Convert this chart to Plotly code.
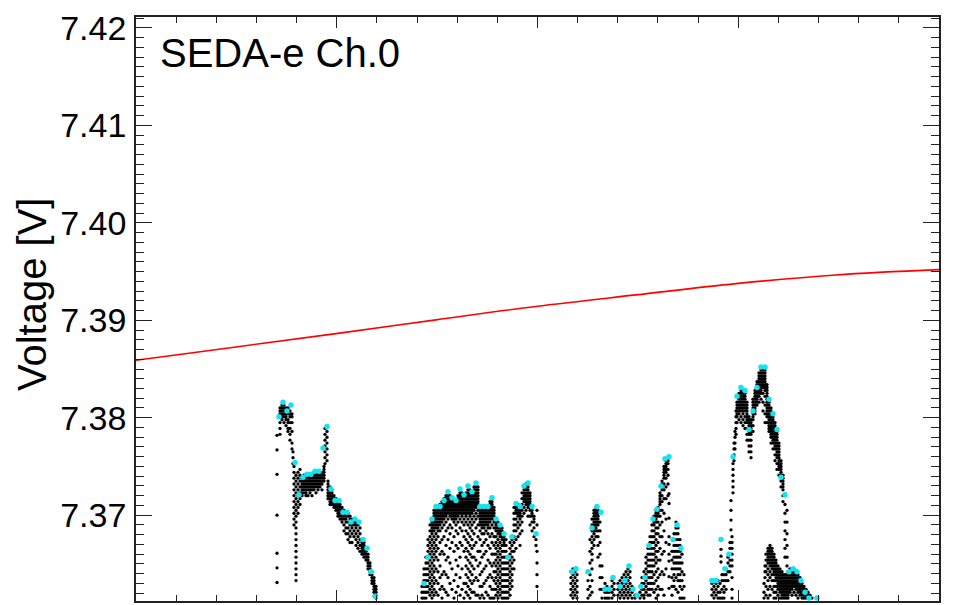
import plotly.graph_objects as go

# ---------------- data ----------------
# sample index (arbitrary time axis, unlabeled in the original)
fit_x = [0, 100, 200, 300, 400, 500, 600, 700, 803]
fit_y = [7.38589, 7.38726, 7.38863, 7.39004, 7.39142, 7.39260, 7.39376, 7.39465, 7.39519]

# black measurements, grouped by sample column: (x, [voltages])
cluster_a = [
    (141, [7.3631, 7.3646, 7.3661, 7.3700, 7.3742, 7.3767, 7.3782]),
    (144, [7.3810, 7.3807, 7.3804, 7.3801, 7.3795, 7.3789, 7.3783]),
    (146, [7.3813, 7.3810, 7.3807, 7.3804, 7.3801, 7.3798]),
    (148, [7.3813, 7.3810, 7.3807, 7.3804, 7.3801, 7.3795]),
    (150, [7.3810, 7.3807, 7.3804, 7.3801, 7.3798, 7.3792]),
    (152, [7.3810, 7.3807, 7.3804, 7.3798, 7.3795, 7.3789, 7.3786]),
    (154, [7.3807, 7.3804, 7.3801, 7.3795, 7.3789, 7.3783, 7.3777]),
    (156, [7.3804, 7.3801, 7.3795, 7.3786, 7.3774, 7.3768]),
    (157, [7.3765, 7.3759, 7.3753]),
    (158, [7.3750, 7.3744, 7.3738, 7.3732, 7.3726, 7.3720, 7.3714, 7.3708, 7.3702, 7.3696, 7.3690]),
    (160, [7.3741, 7.3735, 7.3729, 7.3723, 7.3717, 7.3711, 7.3705, 7.3699, 7.3693, 7.3687, 7.3681,
           7.3675, 7.3669, 7.3663, 7.3657, 7.3651, 7.3645, 7.3639, 7.3633]),
    (162, [7.3744, 7.3738, 7.3732, 7.3726, 7.3720, 7.3714, 7.3708, 7.3702]),
    (164, [7.3747, 7.3741, 7.3735, 7.3729, 7.3723, 7.3717, 7.3711]),
    (166, [7.3738, 7.3735, 7.3732, 7.3729, 7.3726, 7.3723, 7.3720]),
    (168, [7.3741, 7.3738, 7.3735, 7.3732, 7.3729, 7.3726, 7.3723]),
    (170, [7.3741, 7.3738, 7.3735, 7.3732, 7.3729, 7.3726, 7.3723, 7.3720]),
    (172, [7.3741, 7.3738, 7.3735, 7.3732, 7.3729, 7.3726, 7.3720]),
    (174, [7.3741, 7.3738, 7.3735, 7.3732, 7.3729, 7.3726, 7.3723]),
    (176, [7.3741, 7.3738, 7.3735, 7.3732, 7.3729, 7.3726, 7.3720]),
    (178, [7.3744, 7.3741, 7.3738, 7.3735, 7.3732, 7.3729, 7.3726]),
    (180, [7.3744, 7.3741, 7.3738, 7.3735, 7.3732, 7.3729, 7.3723]),
    (182, [7.3744, 7.3741, 7.3738, 7.3735, 7.3732, 7.3729, 7.3726]),
    (184, [7.3744, 7.3741, 7.3738, 7.3735, 7.3732, 7.3729]),
    (186, [7.3744, 7.3741, 7.3738, 7.3735, 7.3732, 7.3726]),
    (188, [7.3750, 7.3747, 7.3744, 7.3741, 7.3738, 7.3735]),
    (189, [7.3789, 7.3783, 7.3777, 7.3771, 7.3765, 7.3759, 7.3753]),
    (191, [7.3786, 7.3780, 7.3774, 7.3768, 7.3762, 7.3756]),
    (192, [7.3735, 7.3732, 7.3729, 7.3726, 7.3723, 7.3720, 7.3717]),
    (194, [7.3729, 7.3726, 7.3723, 7.3720, 7.3717, 7.3714, 7.3711]),
    (196, [7.3726, 7.3723, 7.3720, 7.3717, 7.3714, 7.3711]),
    (198, [7.3720, 7.3717, 7.3714, 7.3711, 7.3708]),
    (200, [7.3717, 7.3714, 7.3711, 7.3708, 7.3705]),
    (202, [7.3714, 7.3711, 7.3708, 7.3705, 7.3702, 7.3699]),
    (204, [7.3711, 7.3708, 7.3705, 7.3702, 7.3699, 7.3696]),
    (206, [7.3708, 7.3705, 7.3702, 7.3699, 7.3696, 7.3693]),
    (208, [7.3705, 7.3702, 7.3699, 7.3696, 7.3690, 7.3684]),
    (210, [7.3702, 7.3699, 7.3696, 7.3693, 7.3687, 7.3681]),
    (212, [7.3702, 7.3699, 7.3693, 7.3687, 7.3681, 7.3675]),
    (214, [7.3699, 7.3696, 7.3690, 7.3684, 7.3678, 7.3672]),
    (216, [7.3696, 7.3693, 7.3690, 7.3687, 7.3681, 7.3672]),
    (218, [7.3696, 7.3693, 7.3690, 7.3684, 7.3678]),
    (220, [7.3693, 7.3690, 7.3687, 7.3681, 7.3675, 7.3669]),
    (222, [7.3693, 7.3690, 7.3684, 7.3678, 7.3672, 7.3666]),
    (224, [7.3687, 7.3681, 7.3675, 7.3669, 7.3663]),
    (226, [7.3675, 7.3672, 7.3669, 7.3666, 7.3663, 7.3660]),
    (228, [7.3672, 7.3669, 7.3666, 7.3663, 7.3660, 7.3657]),
    (230, [7.3666, 7.3663, 7.3660, 7.3657, 7.3654]),
    (232, [7.3660, 7.3657, 7.3654, 7.3651, 7.3648, 7.3645]),
    (234, [7.3651, 7.3648, 7.3645, 7.3642, 7.3639]),
    (236, [7.3642, 7.3639, 7.3636, 7.3633, 7.3630]),
    (238, [7.3636, 7.3633, 7.3630, 7.3627, 7.3624, 7.3621]),
    (240, [7.3627, 7.3624, 7.3621, 7.3618, 7.3615]),
]

cluster_b = [
    (286, [7.3627, 7.3621, 7.3615]),
    (288, [7.3645, 7.3639, 7.3633, 7.3627, 7.3621, 7.3615]),
    (290, [7.3657, 7.3651, 7.3645, 7.3639, 7.3633, 7.3627, 7.3621, 7.3615]),
    (292, [7.3675, 7.3669, 7.3663, 7.3657, 7.3651, 7.3645, 7.3639, 7.3633, 7.3627, 7.3621]),
    (294, [7.3690, 7.3684, 7.3678, 7.3672, 7.3666, 7.3660, 7.3654, 7.3648, 7.3642, 7.3636, 7.3630,
           7.3624, 7.3618]),
    (296, [7.3696, 7.3693, 7.3690, 7.3687, 7.3684, 7.3681, 7.3675, 7.3669, 7.3663, 7.3657, 7.3651,
           7.3645, 7.3639, 7.3633, 7.3627, 7.3621, 7.3615]),
    (298, [7.3705, 7.3702, 7.3699, 7.3696, 7.3693, 7.3690, 7.3687, 7.3684, 7.3678, 7.3672, 7.3666,
           7.3660, 7.3654, 7.3648, 7.3642, 7.3636, 7.3630, 7.3624, 7.3618]),
    (300, [7.3708, 7.3705, 7.3702, 7.3699, 7.3696, 7.3693, 7.3690, 7.3687, 7.3681, 7.3675, 7.3669,
           7.3663, 7.3657, 7.3645, 7.3633, 7.3621]),
    (302, [7.3708, 7.3705, 7.3702, 7.3699, 7.3696, 7.3693, 7.3690, 7.3687, 7.3684, 7.3678, 7.3666,
           7.3654, 7.3642, 7.3630, 7.3618]),
    (304, [7.3711, 7.3708, 7.3705, 7.3702, 7.3699, 7.3696, 7.3693, 7.3690, 7.3684, 7.3672, 7.3660,
           7.3648, 7.3636, 7.3624]),
    (306, [7.3714, 7.3711, 7.3708, 7.3705, 7.3702, 7.3699, 7.3696, 7.3693, 7.3687, 7.3675, 7.3663,
           7.3639, 7.3627, 7.3615]),
    (308, [7.3717, 7.3714, 7.3711, 7.3708, 7.3705, 7.3702, 7.3699, 7.3696, 7.3690, 7.3678, 7.3660,
           7.3642, 7.3624]),
    (310, [7.3720, 7.3717, 7.3714, 7.3711, 7.3708, 7.3705, 7.3702, 7.3699, 7.3693, 7.3684, 7.3669,
           7.3654, 7.3639, 7.3621]),
    (312, [7.3723, 7.3720, 7.3717, 7.3714, 7.3711, 7.3708, 7.3705, 7.3702, 7.3696, 7.3687, 7.3675,
           7.3657, 7.3636, 7.3618]),
    (314, [7.3720, 7.3717, 7.3714, 7.3711, 7.3708, 7.3705, 7.3702, 7.3699, 7.3690, 7.3681, 7.3666,
           7.3651, 7.3630]),
    (316, [7.3717, 7.3714, 7.3711, 7.3708, 7.3705, 7.3702, 7.3699, 7.3696, 7.3687, 7.3672, 7.3645,
           7.3624]),
    (318, [7.3714, 7.3711, 7.3708, 7.3705, 7.3702, 7.3699, 7.3696, 7.3693, 7.3678, 7.3663, 7.3633,
           7.3615]),
    (320, [7.3714, 7.3711, 7.3708, 7.3705, 7.3702, 7.3699, 7.3696, 7.3690, 7.3684, 7.3669, 7.3654,
           7.3639, 7.3621]),
    (322, [7.3720, 7.3717, 7.3714, 7.3711, 7.3708, 7.3705, 7.3702, 7.3699, 7.3693, 7.3681, 7.3666,
           7.3648, 7.3627]),
    (324, [7.3726, 7.3723, 7.3720, 7.3717, 7.3714, 7.3711, 7.3708, 7.3705, 7.3702, 7.3696, 7.3687,
           7.3672, 7.3657, 7.3636, 7.3618]),
    (326, [7.3723, 7.3720, 7.3717, 7.3714, 7.3711, 7.3708, 7.3705, 7.3702, 7.3699, 7.3693, 7.3684,
           7.3669, 7.3645, 7.3624]),
    (328, [7.3720, 7.3717, 7.3714, 7.3711, 7.3708, 7.3705, 7.3702, 7.3696, 7.3690, 7.3678, 7.3663,
           7.3630, 7.3615]),
    (330, [7.3723, 7.3720, 7.3717, 7.3714, 7.3711, 7.3708, 7.3705, 7.3702, 7.3699, 7.3693, 7.3684,
           7.3675, 7.3666, 7.3657, 7.3648, 7.3639, 7.3630, 7.3621]),
    (332, [7.3729, 7.3726, 7.3723, 7.3720, 7.3717, 7.3714, 7.3711, 7.3708, 7.3705, 7.3702, 7.3696,
           7.3690, 7.3681, 7.3672, 7.3663, 7.3654, 7.3645, 7.3636, 7.3627, 7.3618]),
    (334, [7.3726, 7.3723, 7.3720, 7.3717, 7.3714, 7.3711, 7.3708, 7.3705, 7.3702, 7.3699, 7.3693,
           7.3687, 7.3678, 7.3669, 7.3660, 7.3651, 7.3642, 7.3633, 7.3624, 7.3615]),
    (336, [7.3723, 7.3720, 7.3717, 7.3714, 7.3711, 7.3708, 7.3705, 7.3702, 7.3696, 7.3690, 7.3684,
           7.3675, 7.3666, 7.3657, 7.3648, 7.3639, 7.3630, 7.3621]),
    (338, [7.3729, 7.3726, 7.3723, 7.3720, 7.3717, 7.3714, 7.3711, 7.3708, 7.3705, 7.3699, 7.3693,
           7.3681, 7.3669, 7.3657, 7.3645, 7.3633, 7.3621]),
    (340, [7.3732, 7.3729, 7.3726, 7.3723, 7.3720, 7.3717, 7.3714, 7.3711, 7.3708, 7.3702, 7.3696,
           7.3687, 7.3672, 7.3654, 7.3636, 7.3618]),
    (342, [7.3729, 7.3726, 7.3723, 7.3720, 7.3717, 7.3714, 7.3711, 7.3705, 7.3699, 7.3690, 7.3678,
           7.3663, 7.3648, 7.3633, 7.3618]),
    (344, [7.3708, 7.3705, 7.3702, 7.3699, 7.3696, 7.3693, 7.3690, 7.3684, 7.3675, 7.3663, 7.3651,
           7.3639, 7.3627, 7.3615]),
    (346, [7.3708, 7.3705, 7.3702, 7.3699, 7.3696, 7.3693, 7.3690, 7.3687, 7.3681, 7.3669, 7.3657,
           7.3642, 7.3627, 7.3618]),
    (348, [7.3708, 7.3705, 7.3702, 7.3699, 7.3696, 7.3693, 7.3690, 7.3687, 7.3681, 7.3672, 7.3660,
           7.3645, 7.3630, 7.3615]),
    (350, [7.3708, 7.3705, 7.3702, 7.3699, 7.3696, 7.3693, 7.3690, 7.3684, 7.3675, 7.3663, 7.3648,
           7.3633, 7.3621]),
    (352, [7.3708, 7.3705, 7.3702, 7.3699, 7.3696, 7.3693, 7.3690, 7.3687, 7.3681, 7.3669, 7.3654,
           7.3636, 7.3618]),
    (354, [7.3714, 7.3711, 7.3708, 7.3705, 7.3702, 7.3699, 7.3696, 7.3693, 7.3687, 7.3678, 7.3666,
           7.3651, 7.3639, 7.3627, 7.3615]),
    (356, [7.3717, 7.3714, 7.3711, 7.3708, 7.3705, 7.3702, 7.3699, 7.3696, 7.3690, 7.3681, 7.3672,
           7.3660, 7.3648, 7.3636, 7.3624, 7.3615]),
    (358, [7.3708, 7.3705, 7.3702, 7.3699, 7.3696, 7.3693, 7.3687, 7.3678, 7.3669, 7.3660, 7.3651,
           7.3642, 7.3633, 7.3624, 7.3615]),
    (360, [7.3696, 7.3693, 7.3690, 7.3687, 7.3684, 7.3678, 7.3672, 7.3666, 7.3660, 7.3654, 7.3648,
           7.3642, 7.3636, 7.3630, 7.3624, 7.3618]),
    (362, [7.3693, 7.3690, 7.3687, 7.3684, 7.3681, 7.3675, 7.3669, 7.3663, 7.3657, 7.3651, 7.3645,
           7.3639, 7.3633, 7.3627, 7.3621, 7.3615]),
    (364, [7.3690, 7.3687, 7.3684, 7.3681, 7.3678, 7.3672, 7.3666, 7.3660, 7.3654, 7.3648, 7.3642,
           7.3636, 7.3630, 7.3624, 7.3618]),
    (366, [7.3687, 7.3684, 7.3681, 7.3678, 7.3675, 7.3669, 7.3663, 7.3657, 7.3651, 7.3645, 7.3639,
           7.3633, 7.3627, 7.3621, 7.3615]),
    (368, [7.3681, 7.3678, 7.3675, 7.3672, 7.3669, 7.3663, 7.3657, 7.3651, 7.3645, 7.3639, 7.3633,
           7.3627, 7.3621, 7.3615]),
    (370, [7.3675, 7.3669, 7.3663, 7.3657, 7.3651, 7.3645, 7.3639, 7.3633, 7.3627, 7.3621, 7.3615]),
    (372, [7.3657, 7.3651, 7.3645, 7.3639, 7.3633, 7.3627, 7.3621, 7.3615]),
    (374, [7.3672, 7.3666, 7.3660, 7.3654, 7.3648, 7.3642, 7.3636, 7.3630, 7.3624, 7.3618]),
    (376, [7.3678, 7.3675, 7.3669, 7.3663, 7.3657, 7.3651, 7.3645, 7.3639, 7.3633, 7.3627]),
    (378, [7.3708, 7.3702, 7.3696, 7.3690, 7.3684, 7.3678, 7.3672, 7.3663, 7.3654, 7.3645]),
    (380, [7.3711, 7.3708, 7.3705, 7.3702, 7.3696, 7.3690, 7.3684, 7.3675, 7.3666]),
    (382, [7.3711, 7.3708, 7.3705, 7.3702, 7.3699, 7.3693, 7.3687, 7.3678]),
    (384, [7.3708, 7.3705, 7.3702, 7.3699, 7.3696, 7.3690, 7.3681, 7.3669]),
    (386, [7.3723, 7.3717, 7.3711, 7.3705, 7.3699, 7.3693, 7.3684]),
    (388, [7.3729, 7.3726, 7.3723, 7.3720, 7.3717, 7.3714, 7.3708, 7.3702]),
    (390, [7.3732, 7.3729, 7.3726, 7.3723, 7.3720, 7.3717, 7.3714, 7.3711, 7.3705]),
    (392, [7.3732, 7.3729, 7.3726, 7.3723, 7.3720, 7.3717, 7.3714, 7.3711, 7.3708, 7.3699]),
    (394, [7.3723, 7.3720, 7.3717, 7.3714, 7.3711, 7.3708, 7.3705, 7.3699, 7.3690]),
    (396, [7.3708, 7.3705, 7.3702, 7.3699, 7.3693, 7.3684]),
    (398, [7.3699, 7.3696, 7.3693, 7.3687, 7.3678]),
    (400, [7.3681, 7.3675, 7.3669]),
    (401, [7.3705, 7.3690, 7.3663, 7.3651, 7.3639, 7.3627]),
]

cluster_c = [
    (435, [7.3642, 7.3636, 7.3630, 7.3624, 7.3618]),
    (437, [7.3645, 7.3639, 7.3633, 7.3627, 7.3621, 7.3615]),
    (439, [7.3642, 7.3636, 7.3630, 7.3624, 7.3618]),
    (441, [7.3639, 7.3633, 7.3627, 7.3621, 7.3615]),
    (452, [7.3633, 7.3624, 7.3615]),
    (454, [7.3675, 7.3663, 7.3651, 7.3639, 7.3627, 7.3618]),
    (456, [7.3696, 7.3690, 7.3684, 7.3678, 7.3672, 7.3666, 7.3660, 7.3654, 7.3645, 7.3633, 7.3621]),
    (458, [7.3705, 7.3702, 7.3699, 7.3696, 7.3693, 7.3690, 7.3687, 7.3684, 7.3681, 7.3675, 7.3669]),
    (460, [7.3708, 7.3705, 7.3702, 7.3699, 7.3696, 7.3693, 7.3690, 7.3687, 7.3684, 7.3678]),
    (462, [7.3705, 7.3702, 7.3699, 7.3696, 7.3693, 7.3690, 7.3684, 7.3678, 7.3669, 7.3657]),
    (464, [7.3693, 7.3684, 7.3672, 7.3660, 7.3648, 7.3636, 7.3624]),
    (466, [7.3648, 7.3636, 7.3624, 7.3615]),
    (469, [7.3630, 7.3621, 7.3615]),
    (471, [7.3627, 7.3621, 7.3615]),
    (473, [7.3621, 7.3615]),
    (476, [7.3633, 7.3627, 7.3621, 7.3615]),
    (478, [7.3630, 7.3624, 7.3618]),
    (482, [7.3630, 7.3624, 7.3618]),
    (484, [7.3633, 7.3627, 7.3621, 7.3615]),
    (486, [7.3636, 7.3630, 7.3624, 7.3618]),
    (488, [7.3639, 7.3633, 7.3627, 7.3621, 7.3615]),
    (490, [7.3642, 7.3636, 7.3630, 7.3624, 7.3618]),
    (492, [7.3645, 7.3639, 7.3633, 7.3627, 7.3621, 7.3615]),
    (494, [7.3642, 7.3636, 7.3630, 7.3624, 7.3618]),
    (496, [7.3627, 7.3621, 7.3615]),
    (499, [7.3618, 7.3615]),
    (504, [7.3627, 7.3621, 7.3615]),
    (506, [7.3636, 7.3630, 7.3624, 7.3618]),
    (508, [7.3642, 7.3636, 7.3630, 7.3624, 7.3618, 7.3615]),
    (510, [7.3657, 7.3651, 7.3645, 7.3639, 7.3633, 7.3627, 7.3621]),
    (512, [7.3666, 7.3660, 7.3654, 7.3648, 7.3642, 7.3636, 7.3630, 7.3624, 7.3618]),
    (514, [7.3678, 7.3672, 7.3666, 7.3660, 7.3654, 7.3648, 7.3642, 7.3636, 7.3630, 7.3624, 7.3618]),
    (516, [7.3690, 7.3684, 7.3678, 7.3672, 7.3666, 7.3660, 7.3654, 7.3648, 7.3642, 7.3636, 7.3630,
           7.3624]),
    (518, [7.3699, 7.3696, 7.3693, 7.3690, 7.3684, 7.3678, 7.3672, 7.3666, 7.3660, 7.3654, 7.3648,
           7.3639, 7.3630, 7.3621]),
    (520, [7.3705, 7.3702, 7.3699, 7.3696, 7.3693, 7.3687, 7.3681, 7.3675, 7.3669, 7.3663, 7.3657,
           7.3651, 7.3642, 7.3633, 7.3624, 7.3615]),
    (522, [7.3708, 7.3705, 7.3702, 7.3699, 7.3693, 7.3687, 7.3681, 7.3672, 7.3663, 7.3654, 7.3645,
           7.3636, 7.3627, 7.3618]),
    (524, [7.3723, 7.3720, 7.3717, 7.3714, 7.3711, 7.3705, 7.3699, 7.3690, 7.3678, 7.3666, 7.3654,
           7.3639, 7.3624]),
    (526, [7.3735, 7.3732, 7.3729, 7.3726, 7.3720, 7.3714, 7.3705, 7.3693, 7.3678, 7.3660, 7.3642,
           7.3624]),
    (528, [7.3750, 7.3747, 7.3744, 7.3741, 7.3738, 7.3732, 7.3726, 7.3717, 7.3702, 7.3684, 7.3663,
           7.3639, 7.3618]),
    (530, [7.3756, 7.3753, 7.3750, 7.3747, 7.3744, 7.3738, 7.3729, 7.3717, 7.3696, 7.3672, 7.3645]),
    (532, [7.3756, 7.3753, 7.3747, 7.3741, 7.3732, 7.3720]),
    (533, [7.3722, 7.3712, 7.3697, 7.3678, 7.3670, 7.3660, 7.3653, 7.3637, 7.3625]),
    (536, [7.3663, 7.3654, 7.3645, 7.3636, 7.3627, 7.3618]),
    (538, [7.3681, 7.3675, 7.3669, 7.3663, 7.3657, 7.3651, 7.3645, 7.3639, 7.3633, 7.3627]),
    (540, [7.3693, 7.3687, 7.3681, 7.3675, 7.3669, 7.3663, 7.3657, 7.3651, 7.3645, 7.3636, 7.3624]),
    (542, [7.3687, 7.3681, 7.3675, 7.3669, 7.3663, 7.3657, 7.3651, 7.3645, 7.3639, 7.3633, 7.3621]),
    (544, [7.3675, 7.3669, 7.3663, 7.3657, 7.3651, 7.3645, 7.3639, 7.3633, 7.3627, 7.3615]),
    (546, [7.3660, 7.3651, 7.3642, 7.3633, 7.3624, 7.3615]),
    (548, [7.3639, 7.3627, 7.3615]),
]

cluster_d = [
    (576, [7.3630, 7.3624, 7.3618]),
    (578, [7.3633, 7.3627, 7.3621, 7.3615]),
    (580, [7.3630, 7.3624, 7.3618]),
    (582, [7.3633, 7.3627, 7.3621, 7.3615]),
    (584, [7.3630, 7.3621, 7.3615]),
    (585, [7.3665, 7.3658, 7.3652]),
    (586, [7.3639, 7.3633, 7.3624, 7.3615]),
    (588, [7.3639, 7.3633, 7.3627, 7.3621, 7.3615]),
    (590, [7.3645, 7.3639, 7.3633, 7.3624]),
    (592, [7.3657, 7.3651, 7.3642, 7.3633]),
    (594, [7.3672, 7.3666, 7.3660, 7.3654, 7.3648, 7.3642]),
    (595, [7.3715, 7.3705, 7.3695, 7.3685]),
    (596, [7.3678, 7.3672, 7.3666, 7.3660, 7.3654, 7.3648, 7.3636, 7.3624, 7.3615]),
    (597, [7.3753, 7.3747, 7.3741, 7.3735, 7.3729, 7.3723]),
    (598, [7.3774, 7.3768, 7.3762, 7.3756]),
    (599, [7.3786, 7.3780, 7.3774, 7.3768]),
    (600, [7.3807, 7.3801, 7.3795, 7.3789, 7.3783]),
    (601, [7.3816, 7.3813, 7.3810, 7.3807, 7.3804, 7.3801, 7.3795]),
    (603, [7.3825, 7.3822, 7.3819, 7.3816, 7.3813, 7.3810, 7.3807, 7.3804, 7.3798]),
    (605, [7.3828, 7.3825, 7.3822, 7.3819, 7.3816, 7.3813, 7.3810, 7.3807, 7.3801, 7.3795]),
    (607, [7.3828, 7.3825, 7.3822, 7.3819, 7.3816, 7.3813, 7.3810, 7.3807, 7.3804, 7.3798, 7.3792]),
    (609, [7.3825, 7.3822, 7.3819, 7.3816, 7.3813, 7.3810, 7.3807, 7.3801, 7.3795, 7.3789]),
    (611, [7.3816, 7.3813, 7.3810, 7.3807, 7.3804, 7.3801, 7.3798, 7.3795, 7.3789, 7.3783, 7.3777]),
    (613, [7.3801, 7.3798, 7.3795, 7.3792, 7.3789, 7.3786, 7.3783, 7.3777, 7.3771, 7.3765]),
    (615, [7.3798, 7.3795, 7.3792, 7.3789, 7.3786, 7.3783, 7.3777, 7.3771, 7.3765, 7.3759]),
    (617, [7.3819, 7.3816, 7.3813, 7.3810, 7.3807, 7.3804, 7.3801, 7.3798, 7.3792, 7.3786]),
    (619, [7.3828, 7.3825, 7.3822, 7.3819, 7.3816, 7.3813, 7.3810, 7.3807, 7.3804]),
    (621, [7.3837, 7.3834, 7.3831, 7.3828, 7.3825, 7.3822, 7.3819, 7.3816, 7.3813]),
    (623, [7.3846, 7.3843, 7.3840, 7.3837, 7.3834, 7.3831, 7.3828, 7.3825, 7.3822, 7.3816]),
    (625, [7.3849, 7.3846, 7.3843, 7.3840, 7.3837, 7.3834, 7.3831, 7.3828, 7.3825, 7.3819]),
    (627, [7.3852, 7.3849, 7.3846, 7.3843, 7.3840, 7.3837, 7.3834, 7.3831, 7.3825, 7.3816, 7.3807]),
    (629, [7.3849, 7.3846, 7.3843, 7.3840, 7.3837, 7.3834, 7.3831, 7.3828, 7.3822, 7.3813, 7.3804,
           7.3795]),
    (631, [7.3834, 7.3831, 7.3828, 7.3825, 7.3822, 7.3819, 7.3816, 7.3813, 7.3810, 7.3807, 7.3804,
           7.3801, 7.3795]),
    (633, [7.3816, 7.3813, 7.3810, 7.3807, 7.3804, 7.3801, 7.3798, 7.3795, 7.3792, 7.3789, 7.3786]),
    (635, [7.3810, 7.3807, 7.3804, 7.3801, 7.3798, 7.3795, 7.3792, 7.3789, 7.3786, 7.3783, 7.3780,
           7.3774]),
    (637, [7.3804, 7.3801, 7.3798, 7.3795, 7.3792, 7.3789, 7.3786, 7.3783, 7.3780, 7.3777, 7.3774,
           7.3768]),
    (639, [7.3795, 7.3792, 7.3789, 7.3786, 7.3783, 7.3780, 7.3777, 7.3774, 7.3771, 7.3768, 7.3762,
           7.3756]),
    (641, [7.3786, 7.3783, 7.3780, 7.3777, 7.3774, 7.3771, 7.3768, 7.3765, 7.3762, 7.3759, 7.3753,
           7.3747]),
    (643, [7.3774, 7.3771, 7.3768, 7.3765, 7.3762, 7.3759, 7.3756, 7.3753, 7.3750, 7.3747, 7.3741]),
    (645, [7.3756, 7.3753, 7.3750, 7.3747, 7.3744, 7.3741, 7.3738, 7.3735, 7.3729]),
    (647, [7.3741, 7.3738, 7.3735, 7.3732, 7.3729, 7.3726, 7.3720, 7.3714]),
    (649, [7.3720, 7.3711, 7.3702, 7.3693, 7.3684, 7.3675, 7.3666, 7.3657]),
    (651, [7.3705, 7.3693, 7.3681, 7.3669, 7.3657, 7.3648]),
    (628, [7.3630, 7.3621, 7.3615]),
    (629, [7.3648, 7.3642, 7.3636]),
    (630, [7.3660, 7.3654, 7.3648, 7.3642, 7.3627, 7.3618]),
    (632, [7.3666, 7.3663, 7.3660, 7.3657, 7.3654, 7.3651, 7.3645, 7.3639, 7.3633, 7.3624, 7.3615]),
    (634, [7.3669, 7.3666, 7.3663, 7.3660, 7.3657, 7.3654, 7.3651, 7.3648, 7.3642, 7.3636, 7.3627,
           7.3618]),
    (636, [7.3666, 7.3663, 7.3660, 7.3657, 7.3654, 7.3651, 7.3648, 7.3645, 7.3639, 7.3633, 7.3624]),
    (638, [7.3660, 7.3657, 7.3654, 7.3651, 7.3648, 7.3645, 7.3642, 7.3639, 7.3633, 7.3627, 7.3621,
           7.3615]),
    (640, [7.3654, 7.3651, 7.3648, 7.3645, 7.3642, 7.3639, 7.3636, 7.3633, 7.3627, 7.3621, 7.3615]),
    (642, [7.3648, 7.3645, 7.3642, 7.3639, 7.3636, 7.3633, 7.3630, 7.3627, 7.3624, 7.3618]),
    (644, [7.3645, 7.3642, 7.3639, 7.3636, 7.3633, 7.3630, 7.3627, 7.3624, 7.3621, 7.3615]),
    (646, [7.3642, 7.3639, 7.3636, 7.3633, 7.3630, 7.3627, 7.3624, 7.3621, 7.3618, 7.3615]),
    (648, [7.3639, 7.3636, 7.3633, 7.3630, 7.3627, 7.3624, 7.3621, 7.3618, 7.3615]),
    (650, [7.3639, 7.3636, 7.3633, 7.3630, 7.3627, 7.3624, 7.3621, 7.3618, 7.3615]),
    (652, [7.3642, 7.3639, 7.3636, 7.3633, 7.3630, 7.3627, 7.3624, 7.3621, 7.3618, 7.3615]),
    (654, [7.3645, 7.3642, 7.3639, 7.3636, 7.3633, 7.3630, 7.3627, 7.3624, 7.3621]),
    (656, [7.3645, 7.3642, 7.3639, 7.3636, 7.3633, 7.3630, 7.3627, 7.3624, 7.3618]),
    (658, [7.3645, 7.3642, 7.3639, 7.3636, 7.3633, 7.3630, 7.3627, 7.3621]),
    (660, [7.3642, 7.3639, 7.3636, 7.3633, 7.3630, 7.3627, 7.3624, 7.3618]),
    (662, [7.3639, 7.3636, 7.3633, 7.3630, 7.3627, 7.3624, 7.3621, 7.3615]),
    (664, [7.3636, 7.3633, 7.3630, 7.3627, 7.3624, 7.3621, 7.3618]),
    (666, [7.3630, 7.3627, 7.3624, 7.3621, 7.3618, 7.3615]),
    (668, [7.3627, 7.3624, 7.3621, 7.3618, 7.3615]),
    (670, [7.3624, 7.3621, 7.3618, 7.3615]),
    (672, [7.3621, 7.3618, 7.3615]),
    (674, [7.3618, 7.3615]),
    (676, [7.3615]),
]

# highlighted (cyan) samples
cyan_x = [143, 147, 151, 155, 159, 163, 167, 171, 175, 179, 183, 187, 191, 195, 199, 203, 207, 211,
          215, 219, 223, 227, 231, 235, 239,
          288, 292, 296, 300, 304, 308, 312, 316, 320, 324, 328, 332, 336, 340, 344, 348, 352, 356,
          360, 364, 368, 372, 376, 380, 384, 388, 392, 396, 400,
          436, 440, 452, 456, 461, 465, 469, 473, 477, 484, 489, 493, 497, 501, 505, 509, 513, 517,
          521, 525, 529, 533, 537, 541, 545,
          576, 580, 585, 589, 593, 597, 601, 605, 609, 613, 617, 621, 625, 629, 633, 637, 641, 645,
          649, 653, 657, 661, 665, 669, 673, 681]
cyan_y = [7.3801, 7.3816, 7.3807, 7.3813, 7.3754, 7.3721, 7.3739, 7.3742, 7.3742, 7.3745, 7.3745,
          7.3769, 7.3791, 7.3727, 7.3715, 7.3715, 7.3703, 7.3703, 7.3693, 7.3696, 7.3693, 7.3675,
          7.3666, 7.3642, 7.3617,
          7.3630, 7.3657, 7.3696, 7.3709, 7.3709, 7.3715, 7.3724, 7.3718, 7.3715, 7.3727, 7.3721,
          7.3730, 7.3724, 7.3733, 7.3709, 7.3709, 7.3709, 7.3718, 7.3696, 7.3690, 7.3681, 7.3657,
          7.3678, 7.3712, 7.3709, 7.3730, 7.3733, 7.3709, 7.3681,
          7.3642, 7.3645, 7.3642, 7.3687, 7.3709, 7.3703, 7.3624, 7.3624, 7.3636, 7.3627, 7.3633,
          7.3648, 7.3624, 7.3618, 7.3627, 7.3636, 7.3669, 7.3696, 7.3706, 7.3730, 7.3758, 7.3760,
          7.3675, 7.3690, 7.3666,
          7.3633, 7.3633, 7.3675, 7.3645, 7.3660, 7.3760, 7.3822, 7.3831, 7.3828, 7.3788, 7.3807,
          7.3831, 7.3852, 7.3852, 7.3819, 7.3804, 7.3788, 7.3739, 7.3721, 7.3642, 7.3645, 7.3642,
          7.3633, 7.3621, 7.3615, 7.3615]

y_ticks = [7.37, 7.38, 7.39, 7.40, 7.41, 7.42]
y_tick_text = ["7.37", "7.38", "7.39", "7.40", "7.41", "7.42"]

# ---------------- figure ----------------
bx, by = [], []
for cl in (cluster_a, cluster_b, cluster_c, cluster_d):
    for x, ys in cl:
        for v in ys:
            bx.append(x)
            by.append(v)

FONT = "Liberation Sans, Arial, sans-serif"

fig = go.Figure()
fig.add_trace(go.Scatter(x=fit_x, y=fit_y, mode="lines", line=dict(color="#ff0000", width=1.6),
                         line_shape="spline", hoverinfo="skip"))
fig.add_trace(go.Scatter(x=bx, y=by, mode="markers",
                         marker=dict(color="black", size=3.3, line=dict(width=0))))
fig.add_trace(go.Scatter(x=cyan_x, y=cyan_y, mode="markers",
                         marker=dict(color="#12e4f0", size=5.5, line=dict(width=0))))

axis_common = dict(showgrid=False, zeroline=False, showline=True, linecolor="#222222",
                   linewidth=1.6, mirror="ticks", ticks="inside", tickcolor="#222222",
                   tickwidth=1.4)

fig.update_xaxes(range=[0, 803], tick0=0, dtick=200.75, ticklen=11, showticklabels=False,
                 minor=dict(dtick=40.15, ticklen=6, ticks="inside", tickcolor="#222222",
                            tickwidth=1.2),
                 **axis_common)
fig.update_yaxes(range=[7.36120, 7.42111], tickvals=y_ticks, ticktext=y_tick_text, ticklen=16,
                 tickfont=dict(family=FONT, size=34, color="black"), ticklabelstandoff=1,
                 ticklabeloverflow="allow",
                 minor=dict(dtick=0.001, tick0=7.37, ticklen=8, ticks="inside",
                            tickcolor="#222222", tickwidth=1.2),
                 **axis_common)

fig.add_annotation(text="Voltage [V]", xref="paper", yref="paper", x=-0.1295, y=0.524,
                   textangle=-90, showarrow=False, xanchor="center", yanchor="middle",
                   font=dict(family=FONT, size=40, color="black"))
fig.add_annotation(text="SEDA-e Ch.0", xref="paper", yref="paper", x=0.0274, y=0.9385,
                   showarrow=False, xanchor="left", yanchor="middle",
                   font=dict(family=FONT, size=40, color="black"))

# the page body adds an 8 px offset; size the figure so the plot frame lands where it should
fig.update_layout(width=953, height=597, margin=dict(l=128, r=22, t=1, b=3.5),
                  paper_bgcolor="white", plot_bgcolor="white", showlegend=False)

fig.write_html("out.html")
